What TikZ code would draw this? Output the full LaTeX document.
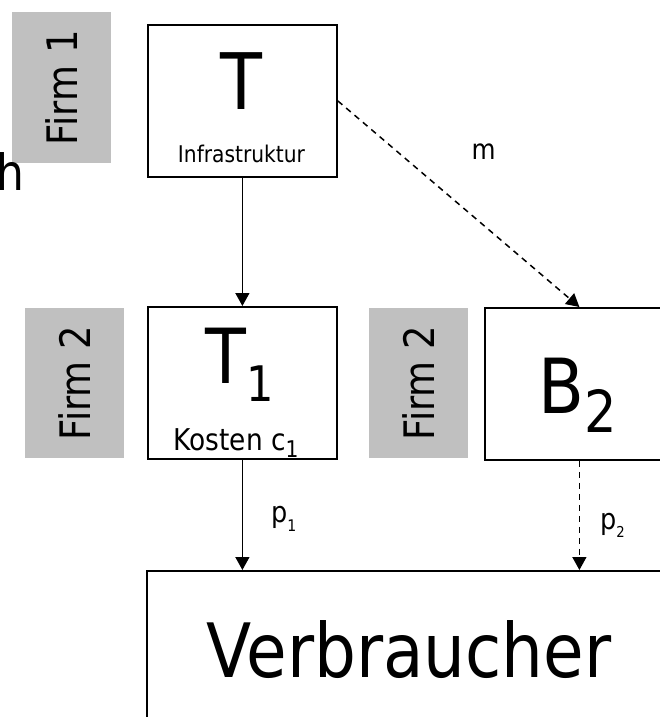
\documentclass[tikz,border=0pt]{standalone}
\usepackage{fontspec}
\setmainfont[FakeStretch=0.88]{DejaVu Sans}
\usetikzlibrary{arrows.meta}
\definecolor{firmgray}{HTML}{C0C0C0}
\newcommand{\fs}[1]{\fontsize{#1}{#1}\selectfont}
\newcommand{\lowsub}[3]{\raisebox{-#2pt}{\fs{#1}#3}}
\tikzset{
  box/.style={draw=black, line width=1.8pt, fill=white, anchor=north west,
    inner sep=0pt, minimum width=189pt, minimum height=152pt},
  firm/.style={fill=firmgray, anchor=north west, inner sep=0pt,
    minimum width=99pt, minimum height=150pt},
  firmtext/.style={rotate=90, inner sep=0pt, font=\fs{42}},
  lbl/.style={inner sep=0pt, anchor=base},
  link/.style={line width=1.5pt, -{Triangle[length=13pt,width=14pt]}},
  dashlink/.style={link, dash pattern=on 6pt off 5pt}
}
\begin{document}
\begin{tikzpicture}[x=1pt,y=-1pt]
\useasboundingbox (0,0) rectangle (659,717);
% firm tags
\node[firm, minimum height=151pt] (firmA) at (12,12) {};
\node[firm] (firmB) at (25,308) {};
\node[firm] (firmC) at (369,308) {};
\node[firmtext] (firmAtxt) at (firmA) {Firm 1};
\node[firmtext] (firmBtxt) at (firmB) {Firm 2};
\node[firmtext] (firmCtxt) at (firmC) {Firm 2};
\node[lbl, anchor=base east, font=\fs{50}] (h) at (25,190) {h};
% boxes
\node[box] (T) at (147,24) {};
\node[box] (T1) at (147,306) {};
\node[box] (B2) at (484,307) {};
\node[box, minimum width=526pt, minimum height=160pt] (V) at (146,570) {};
% box texts
\node[lbl, font=\fs{78}] (Tname) at (241.5,109) {T};
\node[lbl, font=\fs{23}] (Tinfo) at (241.5,162) {Infrastruktur};
\node[lbl, font=\fs{76}] (T1name) at (240,383) {T\lowsub{49}{18}{1}};
\node[lbl, font=\fs{30}] (T1cost) at (236,450) {Kosten c\lowsub{23}{7}{1}};
\node[lbl, font=\fs{76}] (B2name) at (578,413) {B\lowsub{58}{19}{2}};
\node[lbl, font=\fs{75}] (Vname) at (409,677) {Verbraucher};
% links
\draw[link] (T.south) -- (T1.north);
\draw[dashlink] (T.east) -- (B2.north);
\draw[link] (T1.south) -- (T1.south |- V.north);
\draw[dashlink] (B2.south) -- (B2.south |- V.north);
\node[lbl, font=\fs{28}] (m) at (483.5,159) {m};
\node[lbl, anchor=base west, font=\fs{29}] (p1) at (271,522) {p\lowsub{16}{9}{1}};
\node[lbl, anchor=base west, font=\fs{29}] (p2) at (600,529) {p\lowsub{15}{8}{2}};
\end{tikzpicture}
\end{document}
